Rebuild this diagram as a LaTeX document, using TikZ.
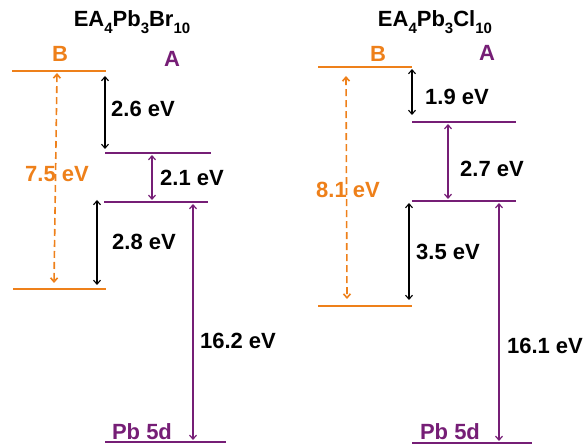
\documentclass[tikz,border=0pt]{standalone}
\usepackage{fontspec}
\setmainfont{Liberation Sans}
\usetikzlibrary{arrows.meta}
\definecolor{lvorange}{RGB}{238,128,26}
\definecolor{lvpurple}{RGB}{118,30,118}
\newcommand{\lsub}[1]{\raisebox{-0.28em}{\fontsize{15}{15}\selectfont #1}}
\begin{document}
\begin{tikzpicture}[x=1pt,y=-1pt,
  olevel/.style={line width=1.8pt,draw=lvorange},
  plevel/.style={line width=1.8pt,draw=lvpurple},
  tip/.tip={Straight Barb[length=4pt,width=7pt]},
  gapk/.style={line width=1.1pt,draw=black,tip-tip},
  gapp/.style={line width=1.2pt,draw=lvpurple,tip-tip},
  gapo/.style={line width=1.6pt,draw=lvorange,dash pattern=on 7pt off 4pt,tip-tip},
  lbl/.style={font=\fontsize{22}{24}\selectfont\bfseries,inner sep=0pt},
  olbl/.style={lbl,text=lvorange},
  plbl/.style={lbl,text=lvpurple},
]
\useasboundingbox (0,0) rectangle (587,446);

% ---------------- left panel: EA4Pb3Br10 ----------------
\node[lbl,anchor=base] (t1) at (132,27) {EA\lsub{4}Pb\lsub{3}Br\lsub{10}};
\node[olbl] (b1) at (60,54) {B};
\node[plbl] (a1) at (172,59) {A};

\draw[olevel] (12,71) -- (106,71);
\draw[plevel] (105,153) -- (211,153);
\draw[plevel] (104,202) -- (208,202);
\draw[olevel] (13,289) -- (106,289);
\draw[plevel] (105,442) -- (226,442);

\coordinate (l1k1t) at (105,76);  \coordinate (l1k1b) at (105,149);
\coordinate (l1p1t) at (152,155); \coordinate (l1p1b) at (152,200);
\coordinate (l1k2t) at (97,200);  \coordinate (l1k2b) at (97,285);
\coordinate (l1o1t) at (57,73);   \coordinate (l1o1b) at (54,283);
\coordinate (l1p2t) at (193,204); \coordinate (l1p2b) at (193,440);

\node[olbl] (v75) at (57,174) {7.5 eV};
\draw[gapo] (l1o1t) -- (l1o1b);
\draw[gapk] (l1k1t) -- (l1k1b);
\node[lbl] (v26) at (143,109) {2.6 eV};
\draw[gapp] (l1p1t) -- (l1p1b);
\node[lbl] (v21) at (192,178) {2.1 eV};
\draw[gapk] (l1k2t) -- (l1k2b);
\node[lbl] (v28) at (144,242) {2.8 eV};
\draw[gapp] (l1p2t) -- (l1p2b);
\node[lbl] (v162) at (238,341) {16.2 eV};
\node[plbl] (pb1) at (142,432) {Pb 5d};

% ---------------- right panel: EA4Pb3Cl10 ----------------
\node[lbl,anchor=base] (t2) at (435,27) {EA\lsub{4}Pb\lsub{3}Cl\lsub{10}};
\node[olbl] (b2) at (378,54) {B};
\node[plbl] (a2) at (487,53) {A};

\draw[olevel] (318,67) -- (412,67);
\draw[plevel] (412,122) -- (516,122);
\draw[plevel] (412,201) -- (516,201);
\draw[olevel] (318,306) -- (412,306);
\draw[plevel] (412,443) -- (532,443);

\coordinate (r1k1t) at (412,69);  \coordinate (r1k1b) at (412,115);
\coordinate (r1p1t) at (448,124); \coordinate (r1p1b) at (448,199);
\coordinate (r1k2t) at (409,203); \coordinate (r1k2b) at (409,300);
\coordinate (r1o1t) at (346,76);  \coordinate (r1o1b) at (347,299);
\coordinate (r1p2t) at (499,203); \coordinate (r1p2b) at (499,441);

\node[olbl] (v81) at (348,190) {8.1 eV};
\draw[gapo] (r1o1t) -- (r1o1b);
\draw[gapk] (r1k1t) -- (r1k1b);
\node[lbl] (v19) at (457,97) {1.9 eV};
\draw[gapp] (r1p1t) -- (r1p1b);
\node[lbl] (v27) at (492,169) {2.7 eV};
\draw[gapk] (r1k2t) -- (r1k2b);
\node[lbl] (v35) at (448,252) {3.5 eV};
\draw[gapp] (r1p2t) -- (r1p2b);
\node[lbl] (v161) at (545,346) {16.1 eV};
\node[plbl] (pb2) at (450,432) {Pb 5d};
\end{tikzpicture}
\end{document}
